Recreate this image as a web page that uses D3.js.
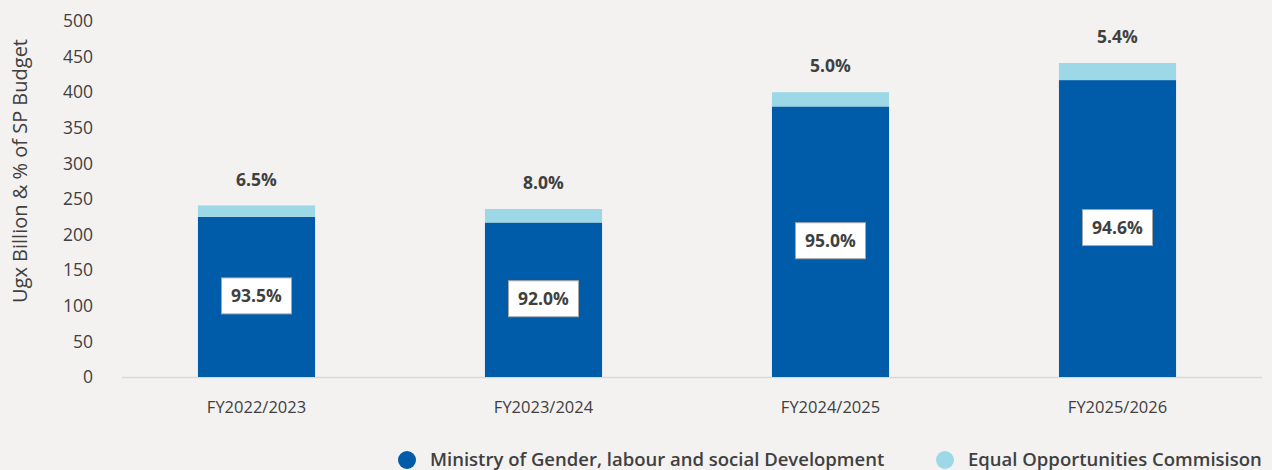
<!DOCTYPE html>
<html>
<head>
<meta charset="utf-8">
<script src="https://cdn.jsdelivr.net/npm/d3@7"></script>
<style>
  body { margin: 0; background: #f3f2f1; font-family: "Open Sans", sans-serif; }
  svg { display: block; }
</style>
</head>
<body>
<div id="chart"></div>
<script>
// Data (Ugx Billion)
const years = ["FY2022/2023", "FY2023/2024", "FY2024/2025", "FY2025/2026"];
const ministry = [225, 217, 380, 417];
const eoc = [16, 19, 20, 24];
const ministryPct = ["93.5%", "92.0%", "95.0%", "94.6%"];
const eocPct = ["6.5%", "8.0%", "5.0%", "5.4%"];
const yTicks = [0, 50, 100, 150, 200, 250, 300, 350, 400, 450, 500];

const W = 1272, H = 470;
const colDark = "#005ba9", colLight = "#9dd8e6", txt = "#404040";

const svg = d3.select("#chart").append("svg")
    .attr("width", W)
    .attr("height", H);

const x = d3.scaleBand()
    .domain(years)
    .range([113, 1261])
    .paddingInner(0.592)
    .paddingOuter(0.296);

const y = d3.scaleLinear()
    .domain([0, 500])
    .range([377, 21]);

// y tick labels
svg.append("g")
    .selectAll("text")
    .data(yTicks)
    .enter().append("text")
    .attr("x", 93)
    .attr("y", d => y(d))
    .attr("dy", "0.35em")
    .attr("text-anchor", "end")
    .attr("fill", txt)
    .style("font-size", "17.5px")
    .text(d => d);

// y title
svg.append("text")
    .attr("transform", `translate(27,${y(250) - 28}) rotate(-90)`)
    .attr("text-anchor", "middle")
    .attr("fill", txt)
    .style("font-size", "20px")
    .text("Ugx Billion & % of SP Budget");

// baseline
svg.append("line")
    .attr("x1", 122).attr("x2", 1262)
    .attr("y1", y(0) + 0.5).attr("y2", y(0) + 0.5)
    .attr("stroke", "#d9d9d9")
    .attr("stroke-width", 1.5);

// bars
const data = years.map((yr, i) => ({ yr, a: ministry[i], b: eoc[i], pa: ministryPct[i], pb: eocPct[i] }));

svg.append("g").selectAll("rect")
    .data(data)
    .enter().append("rect")
    .attr("x", d => x(d.yr))
    .attr("width", x.bandwidth())
    .attr("y", d => y(d.a))
    .attr("height", d => y(0) - y(d.a))
    .attr("fill", colDark);

svg.append("g").selectAll("rect")
    .data(data)
    .enter().append("rect")
    .attr("x", d => x(d.yr))
    .attr("width", x.bandwidth())
    .attr("y", d => y(d.a + d.b))
    .attr("height", d => y(d.a) - y(d.a + d.b))
    .attr("fill", colLight);

// inner label boxes
const inner = svg.append("g").selectAll("g")
    .data(data)
    .enter().append("g")
    .attr("transform", d => `translate(${x(d.yr) + x.bandwidth() / 2},${(y(d.a) + y(0)) / 2 - 1})`);

inner.append("rect")
    .attr("x", -35).attr("y", -18)
    .attr("width", 70).attr("height", 36)
    .attr("fill", "#ffffff")
    .attr("stroke", "#a6a6a6")
    .attr("stroke-width", 1);

inner.append("text")
    .attr("text-anchor", "middle")
    .attr("dy", "0.36em")
    .attr("fill", txt)
    .style("font-size", "17.5px")
    .style("font-weight", "bold")
    .text(d => d.pa);

// top labels
svg.append("g").selectAll("text")
    .data(data)
    .enter().append("text")
    .attr("x", d => x(d.yr) + x.bandwidth() / 2)
    .attr("y", d => y(d.a + d.b) - 26)
    .attr("dy", "0.35em")
    .attr("text-anchor", "middle")
    .attr("fill", txt)
    .style("font-size", "17.5px")
    .style("font-weight", "bold")
    .text(d => d.pb);

// x labels
svg.append("g").selectAll("text")
    .data(years)
    .enter().append("text")
    .attr("x", d => x(d) + x.bandwidth() / 2)
    .attr("y", 407)
    .attr("dy", "0.35em")
    .attr("text-anchor", "middle")
    .attr("fill", txt)
    .style("font-size", "16.5px")
    .text(d => d);

// legend
const legend = [
    { name: "Ministry of Gender, labour and social Development", color: colDark, x: 407 },
    { name: "Equal Opportunities Commisison", color: colLight, x: 945 }
];
const lg = svg.append("g").selectAll("g")
    .data(legend)
    .enter().append("g")
    .attr("transform", d => `translate(${d.x},460)`);

lg.append("circle")
    .attr("r", 9)
    .attr("fill", d => d.color);

lg.append("text")
    .attr("x", 23)
    .attr("dy", "0.35em")
    .attr("fill", txt)
    .style("font-size", "18.5px")
    .style("font-weight", 600)
    .text(d => d.name);
</script>
</body>
</html>
